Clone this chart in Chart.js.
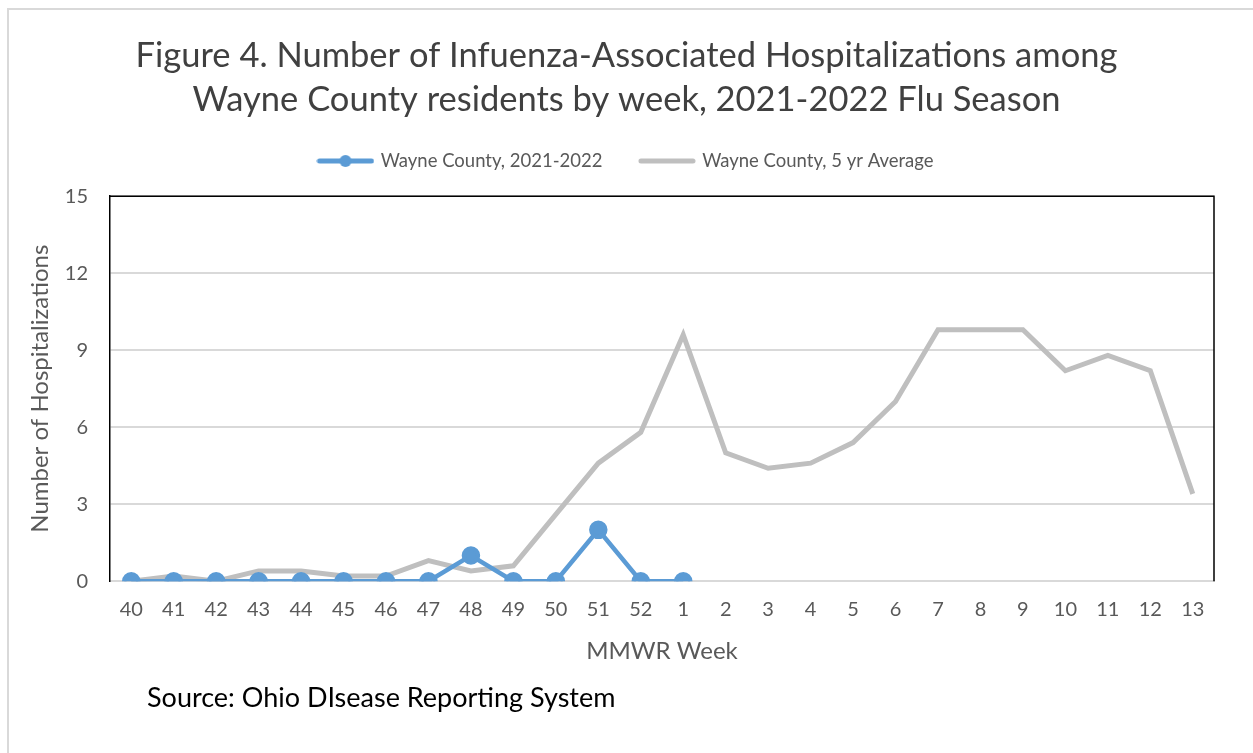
<!DOCTYPE html>
<html>
<head>
<meta charset="utf-8">
<script src="https://cdn.jsdelivr.net/npm/chart.js@4"></script>
<style>
  body { margin: 0; background: #fff; }
  #wrap { position: relative; width: 1253px; height: 753px; overflow: hidden; }
  #frame { position: absolute; left: 7px; top: 8px; width: 1300px; height: 800px; border: 2px solid #d9d9d9; box-sizing: border-box; }
  #source { position: absolute; left: 147px; top: 680px; font: 27px Lato, sans-serif; color: #000; }
  canvas { position: absolute; left: 0; top: 0; }
</style>
</head>
<body>
<div id="wrap">
  <div id="frame"></div>
  <canvas id="chart" width="1253" height="753"></canvas>
  <div id="source">Source: Ohio DIsease Reporting System</div>
</div>
<script>
// semanas MMWR
const weeks = ['40','41','42','43','44','45','46','47','48','49','50','51','52','1','2','3','4','5','6','7','8','9','10','11','12','13']
const wayne2122 = [0,0,0,0,0,0,0,0,1,0,0,2,0,0]
const wayneAvg = [0,0.2,0,0.4,0.4,0.2,0.2,0.8,0.4,0.6,2.6,4.6,5.8,9.6,5.0,4.4,4.6,5.4,7.0,9.8,9.8,9.8,8.2,8.8,8.2,3.4]
const yTicks = [0,3,6,9,12,15]

const BLUE = '#5b9bd5'
const GRAY = '#bfbfbf'
const FONT = 'Lato, sans-serif'

// muestra de leyenda: linea con o sin marcador
function legendSample(color, marker) {
    const c = document.createElement('canvas')
    c.width = 58; c.height = 14
    const ctx = c.getContext('2d')
    ctx.strokeStyle = color
    ctx.lineWidth = 5
    ctx.lineCap = 'round'
    ctx.beginPath(); ctx.moveTo(3, 7); ctx.lineTo(55, 7); ctx.stroke()
    if (marker) {
        ctx.fillStyle = color
        ctx.beginPath(); ctx.arc(29, 7, 6, 0, Math.PI * 2); ctx.fill()
    }
    return c
}
const samples = [legendSample(BLUE, true), legendSample(GRAY, false)]

// borde negro arriba y a la derecha del area de datos
const plotFrame = {
    id: 'plotFrame',
    afterDatasetsDraw(chart) {
        const { ctx, chartArea: a } = chart
        ctx.save()
        ctx.strokeStyle = '#000'
        ctx.lineWidth = 1.5
        ctx.beginPath()
        ctx.moveTo(a.left, a.top)
        ctx.lineTo(a.right, a.top)
        ctx.lineTo(a.right, a.bottom)
        ctx.stroke()
        ctx.restore()
    }
}

// espacio extra debajo de la leyenda
const legendGap = {
    id: 'legendGap',
    beforeUpdate(chart) {
        const lg = chart.legend
        if (!lg || lg._gapDone) return
        const fit = lg.fit
        lg.fit = function () { fit.call(this); this.height += 16 }
        lg._gapDone = true
    }
}

const data = {
    labels: weeks,
    datasets: [
        {
            label: 'Wayne County, 2021-2022',
            data: wayne2122,
            borderColor: BLUE,
            backgroundColor: BLUE,
            borderWidth: 4.5,
            pointRadius: 7,
            pointHoverRadius: 7,
            order: 1
        },
        {
            label: 'Wayne County, 5 yr Average',
            data: wayneAvg,
            borderColor: GRAY,
            backgroundColor: GRAY,
            borderWidth: 5,
            pointRadius: 0,
            order: 2
        }
    ]
}

const options = {
    responsive: false,
    animation: false,
    layout: { padding: { left: 0, right: 0, top: 0, bottom: 83 } },
    elements: { line: { tension: 0 } },
    scales: {
        x: {
            offset: true,
            grid: { display: false, drawTicks: false },
            border: { color: '#d9d9d9', width: 2 },
            ticks: { color: '#595959', font: { family: FONT, size: 20 }, padding: 16, maxRotation: 0, autoSkip: false },
            title: { display: true, text: 'MMWR Week', color: '#595959', font: { family: FONT, size: 24 }, padding: { top: 0 } }
        },
        y: {
            min: 0,
            max: 15,
            afterBuildTicks(scale) { scale.ticks = yTicks.map(v => ({ value: v })) },
            afterFit(scale) { scale.width = 110 },
            grid: { color: '#d9d9d9', lineWidth: 2, drawTicks: false },
            border: { color: '#000', width: 1.5 },
            ticks: { color: '#595959', font: { family: FONT, size: 20 }, padding: 22 },
            title: { display: true, text: 'Number of Hospitalizations', color: '#595959', font: { family: FONT, size: 24 }, padding: { top: 26, bottom: 0 } }
        },
        // eje vacio a la derecha, solo reserva margen
        yRight: {
            type: 'linear',
            position: 'right',
            display: true,
            afterFit(scale) { scale.width = 39 },
            grid: { display: false },
            border: { display: false },
            ticks: { display: false }
        }
    },
    plugins: {
        title: {
            display: true,
            text: ['Figure 4. Number of Infuenza-Associated Hospitalizations among', 'Wayne County residents by week, 2021-2022 Flu Season'],
            color: '#404040',
            font: { family: FONT, size: 34.5, weight: 'normal', lineHeight: 1.3 },
            padding: { top: 33, bottom: 19 }
        },
        legend: {
            position: 'top',
            labels: {
                usePointStyle: true,
                pointStyleWidth: 52,
                color: '#595959',
                font: { family: FONT, size: 18.5 },
                padding: 10,
                generateLabels(chart) {
                    return Chart.defaults.plugins.legend.labels.generateLabels(chart).map((item, i) => {
                        item.pointStyle = samples[i]
                        if (i === 0) item.text += '\u00a0\u00a0\u00a0\u00a0\u00a0\u00a0'
                        return item
                    })
                }
            }
        },
        tooltip: { enabled: false }
    }
}

new Chart('chart', { type: 'line', data, options, plugins: [plotFrame, legendGap] })
</script>
</body>
</html>
